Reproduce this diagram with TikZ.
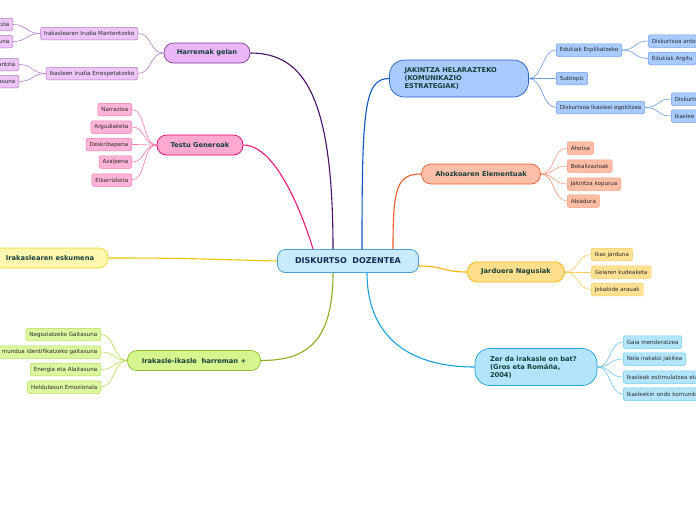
\documentclass[tikz,border=0pt]{standalone}
\usepackage{fontspec}
\setmainfont{DejaVu Sans}
\usepackage{tikz}
\usepackage{xcolor}
\definecolor{rootfill}{HTML}{C8EAFC}
\definecolor{rootline}{HTML}{4B9ED8}
\definecolor{roottext}{HTML}{132A55}
\definecolor{topictext}{HTML}{15403A}
\definecolor{leaftext}{HTML}{2A2A2A}
\definecolor{purplefill}{HTML}{EAB6F6}
\definecolor{purpleline}{HTML}{7A3C9E}
\definecolor{purplebranch}{HTML}{4A0F66}
\definecolor{purpleleaf}{HTML}{EDC6F7}
\definecolor{purpleedge}{HTML}{B47CCC}
\definecolor{pinkfill}{HTML}{FFA8D0}
\definecolor{pinkline}{HTML}{E6006A}
\definecolor{pinkbranch}{HTML}{F0187A}
\definecolor{pinkleaf}{HTML}{FFB4D7}
\definecolor{pinkedge}{HTML}{F57AB0}
\definecolor{yellowfill}{HTML}{FFF7B0}
\definecolor{yellowline}{HTML}{F0D41E}
\definecolor{yellowbranch}{HTML}{E8C800}
\definecolor{greenfill}{HTML}{D7F58F}
\definecolor{greenline}{HTML}{8CBF26}
\definecolor{greenbranch}{HTML}{8BAF1C}
\definecolor{greenleaf}{HTML}{DDF7A0}
\definecolor{greenedge}{HTML}{B5DC5A}
\definecolor{bluefill}{HTML}{A8CAFF}
\definecolor{blueline}{HTML}{2460C8}
\definecolor{bluebranch}{HTML}{0B56C5}
\definecolor{blueleaf}{HTML}{A9CBFF}
\definecolor{blueedge}{HTML}{6C9DE8}
\definecolor{orangefill}{HTML}{FFBEA8}
\definecolor{orangeline}{HTML}{F2602C}
\definecolor{orangebranch}{HTML}{F25A26}
\definecolor{orangeleaf}{HTML}{FFBDA6}
\definecolor{orangeedge}{HTML}{F59A7A}
\definecolor{amberfill}{HTML}{FFDF8C}
\definecolor{amberline}{HTML}{F5B400}
\definecolor{amberbranch}{HTML}{F5B000}
\definecolor{amberleaf}{HTML}{FFE194}
\definecolor{amberedge}{HTML}{F8CC60}
\definecolor{cyanfill}{HTML}{B2E5FB}
\definecolor{cyanline}{HTML}{1BA5E2}
\definecolor{cyanbranch}{HTML}{16A3E0}
\definecolor{cyanleaf}{HTML}{B4E6FB}
\definecolor{cyanedge}{HTML}{6CC8F0}

\begin{document}
\begin{tikzpicture}[x=1pt, y=1pt,
    root/.style={
      draw=rootline, fill=rootfill, line width=0.8pt, rounded corners=8pt,
      minimum width=141pt, minimum height=23pt, text=roottext,
      font=\fontsize{8}{9}\selectfont\bfseries
    },
    topic/.style={
      rounded corners=9.5pt, line width=0.7pt, minimum height=20pt,
      text=topictext, font=\fontsize{6.7}{8}\selectfont\bfseries
    },
    bigtopic/.style={
      topic, rounded corners=15pt, minimum height=37pt, inner xsep=15pt, align=left
    },
    leaf/.style={
      rounded corners=1.5pt, line width=0.5pt, minimum height=12.5pt,
      inner xsep=3.5pt, inner ysep=1pt, text=leaftext,
      font=\fontsize{5.6}{6.5}\selectfont
    },
    branch/.style={line width=1.1pt},
    twig/.style={line width=0.6pt}
  ]
  \clip (0,0) rectangle (696,-520);
  \fill[white] (0,0) rectangle (696,-520);

  \node[root] (ctr) at (348,-261) {DISKURTSO\ \ DOZENTEA};

  \node[topic, draw=purpleline, fill=purplefill, minimum width=86pt] (gelan) at (207,-53) {Harremak gelan};
  \node[leaf, draw=purpleedge, fill=purpleleaf, anchor=east] (mantendu) at (138,-33.5) {Irakaslearen Irudia Mantentzeko};
  \node[leaf, draw=purpleedge, fill=purpleleaf, anchor=east] (errespetatu) at (138,-73.5) {Ikasleen irudia Errespetatzeko};
  \node[leaf, draw=purpleedge, fill=purpleleaf, anchor=east, text width=30pt, align=right] (mantendua) at (13,-24.5) {ntzia};
  \node[leaf, draw=purpleedge, fill=purpleleaf, anchor=east, text width=30pt, align=right] (mantendub) at (13,-41.5) {una};
  \node[leaf, draw=purpleedge, fill=purpleleaf, anchor=east, text width=30pt, align=right] (errespetatua) at (19,-64.5) {antzia};
  \node[leaf, draw=purpleedge, fill=purpleleaf, anchor=east, text width=30pt, align=right] (errespetatub) at (19,-81.5) {asuna};

  \node[topic, draw=pinkline, fill=pinkfill, minimum width=86pt] (generoak) at (200,-145) {Testu Generoak};
  \node[leaf, draw=pinkedge, fill=pinkleaf, anchor=east] (narrazioa) at (132,-109.5) {Narrazioa};
  \node[leaf, draw=pinkedge, fill=pinkleaf, anchor=east] (argudiaketa) at (132,-127) {Argudiaketa};
  \node[leaf, draw=pinkedge, fill=pinkleaf, anchor=east] (deskribapena) at (132,-144.5) {Deskribapena};
  \node[leaf, draw=pinkedge, fill=pinkleaf, anchor=east] (azalpena) at (132,-162) {Azalpena};
  \node[leaf, draw=pinkedge, fill=pinkleaf, anchor=east] (elkarrizketa) at (132,-180) {Elkarrizketa};

  \node[topic, draw=yellowline, fill=yellowfill, minimum width=116pt] (eskumena) at (50,-258) {Irakaslearen eskumena};

  \node[topic, draw=greenline, fill=greenfill, minimum width=133pt] (harreman) at (194,-360.5) {Irakasle-ikasle\ \ harreman +};
  \node[leaf, draw=greenedge, fill=greenleaf, anchor=east] (negoziatu) at (101,-334.5) {Negoziatzeko Gaitasuna};
  \node[leaf, draw=greenedge, fill=greenleaf, anchor=east, text width=120pt, align=right] (identifikatu) at (101,-352) {n mundua identifikatzeko gaitasuna};
  \node[leaf, draw=greenedge, fill=greenleaf, anchor=east] (energia) at (101,-369.5) {Energia eta Alaitasuna};
  \node[leaf, draw=greenedge, fill=greenleaf, anchor=east] (heldutasun) at (101,-387) {Heldutasun Emozionala};

  \node[bigtopic, draw=blueline, fill=bluefill, text width=109pt] (jakintza) at (459,-78.5) {JAKINTZA HELARAZTEKO\\(KOMUNIKAZIO\\ESTRATEGIAK)};
  \node[leaf, draw=blueedge, fill=blueleaf, anchor=west] (esplikatu) at (556,-50) {Edukiak Esplikatzeko};
  \node[leaf, draw=blueedge, fill=blueleaf, anchor=west] (subtopic) at (556,-78.5) {Subtopic};
  \node[leaf, draw=blueedge, fill=blueleaf, anchor=west] (egokitu) at (556,-107.5) {Diskurtsoa Ikasleei egokitzea};
  \node[leaf, draw=blueedge, fill=blueleaf, anchor=west, text width=60pt, align=left] (antolatu) at (648,-41) {Diskurtsoa anto};
  \node[leaf, draw=blueedge, fill=blueleaf, anchor=west] (argitu) at (648,-58.5) {Edukiak Argitu};
  \node[leaf, draw=blueedge, fill=blueleaf, anchor=west, text width=60pt, align=left] (egokitua) at (671,-99) {Diskurts};
  \node[leaf, draw=blueedge, fill=blueleaf, anchor=west, text width=60pt, align=left] (egokitub) at (671,-116) {Ikaslee};

  \node[topic, draw=orangeline, fill=orangefill, minimum width=119pt] (ahozkoa) at (481,-174) {Ahozkoaren Elementuak};
  \node[leaf, draw=orangeedge, fill=orangeleaf, anchor=west] (ahotsa) at (567,-148) {Ahotsa};
  \node[leaf, draw=orangeedge, fill=orangeleaf, anchor=west] (bokalizazioak) at (567,-166) {Bokalizazioak};
  \node[leaf, draw=orangeedge, fill=orangeleaf, anchor=west] (kopurua) at (567,-184) {Jakintza kopurua};
  \node[leaf, draw=orangeedge, fill=orangeleaf, anchor=west] (abiadura) at (567,-201) {Abiadura};

  \node[topic, draw=amberline, fill=amberfill, minimum width=97pt] (jarduera) at (516,-272) {Jarduera Nagusiak};
  \node[leaf, draw=amberedge, fill=amberleaf, anchor=west] (jarduna) at (591,-254.5) {Ikas jarduna};
  \node[leaf, draw=amberedge, fill=amberleaf, anchor=west] (kudeaketa) at (591,-272) {Gelaren kudeaketa};
  \node[leaf, draw=amberedge, fill=amberleaf, anchor=west] (arauak) at (591,-289.5) {Jokabide arauak};

  \node[bigtopic, draw=cyanline, fill=cyanfill, text width=92pt] (irakasleon) at (536,-367) {Zer da irakasle on bat?\\(Gros eta Romáña,\\2004)};
  \node[leaf, draw=cyanedge, fill=cyanleaf, anchor=west] (menderatu) at (623,-342) {Gaia menderatzea};
  \node[leaf, draw=cyanedge, fill=cyanleaf, anchor=west] (irakatsi) at (623,-359) {Nola irakatsi jakitea};
  \node[leaf, draw=cyanedge, fill=cyanleaf, anchor=west, text width=100pt, align=left] (estimulatu) at (623,-377) {Ikasleak estimulatzea eta};
  \node[leaf, draw=cyanedge, fill=cyanleaf, anchor=west, text width=100pt, align=left] (komunikatu) at (623,-394) {Ikasleekin ondo komunik};

  \draw[branch, draw=purplebranch] ([xshift=-15pt]ctr.north) .. controls +(0,150) and +(55,0) .. (gelan.east);
  \draw[branch, draw=pinkbranch] ([xshift=-35pt]ctr.north) .. controls +(0,-0) and +(40,0) .. (generoak.east);
  \draw[branch, draw=yellowbranch] ([yshift=0pt]ctr.west) .. controls +(-80,2) and +(80,0) .. (eskumena.east);
  \draw[branch, draw=greenbranch] ([xshift=-15pt]ctr.south) .. controls +(0,-70) and +(45,0) .. (harreman.east);
  \draw[branch, draw=bluebranch] ([xshift=14pt]ctr.north) .. controls +(0,140) and +(-25,0) .. (jakintza.west);
  \draw[branch, draw=orangebranch] ([xshift=45pt]ctr.north) .. controls +(0,60) and +(-25,0) .. (ahozkoa.west);
  \draw[branch, draw=amberbranch] ([yshift=-5pt]ctr.east) .. controls +(25,0) and +(-25,0) .. (jarduera.west);
  \draw[branch, draw=cyanbranch] ([xshift=19pt]ctr.south) .. controls +(0,-60) and +(-70,0) .. (irakasleon.west);

  \foreach \kid in {mantendu, errespetatu}
    \draw[twig, draw=purpleedge] (gelan.west) .. controls +(-14,0) and +(14,0) .. (\kid.east);
  \foreach \kid in {mantendua, mantendub}
    \draw[twig, draw=purpleedge] (mantendu.west) .. controls +(-14,0) and +(14,0) .. (\kid.east);
  \foreach \kid in {errespetatua, errespetatub}
    \draw[twig, draw=purpleedge] (errespetatu.west) .. controls +(-14,0) and +(14,0) .. (\kid.east);
  \foreach \kid in {narrazioa, argudiaketa, deskribapena, azalpena, elkarrizketa}
    \draw[twig, draw=pinkedge] (generoak.west) .. controls +(-14,0) and +(14,0) .. (\kid.east);
  \foreach \kid in {negoziatu, identifikatu, energia, heldutasun}
    \draw[twig, draw=greenedge] (harreman.west) .. controls +(-14,0) and +(14,0) .. (\kid.east);
  \foreach \kid in {esplikatu, subtopic, egokitu}
    \draw[twig, draw=blueedge] (jakintza.east) .. controls +(14,0) and +(-14,0) .. (\kid.west);
  \foreach \kid in {antolatu, argitu}
    \draw[twig, draw=blueedge] (esplikatu.east) .. controls +(14,0) and +(-14,0) .. (\kid.west);
  \foreach \kid in {egokitua, egokitub}
    \draw[twig, draw=blueedge] (egokitu.east) .. controls +(14,0) and +(-14,0) .. (\kid.west);
  \foreach \kid in {ahotsa, bokalizazioak, kopurua, abiadura}
    \draw[twig, draw=orangeedge] (ahozkoa.east) .. controls +(14,0) and +(-14,0) .. (\kid.west);
  \foreach \kid in {jarduna, kudeaketa, arauak}
    \draw[twig, draw=amberedge] (jarduera.east) .. controls +(14,0) and +(-14,0) .. (\kid.west);
  \foreach \kid in {menderatu, irakatsi, estimulatu, komunikatu}
    \draw[twig, draw=cyanedge] (irakasleon.east) .. controls +(14,0) and +(-14,0) .. (\kid.west);
\end{tikzpicture}
\end{document}
